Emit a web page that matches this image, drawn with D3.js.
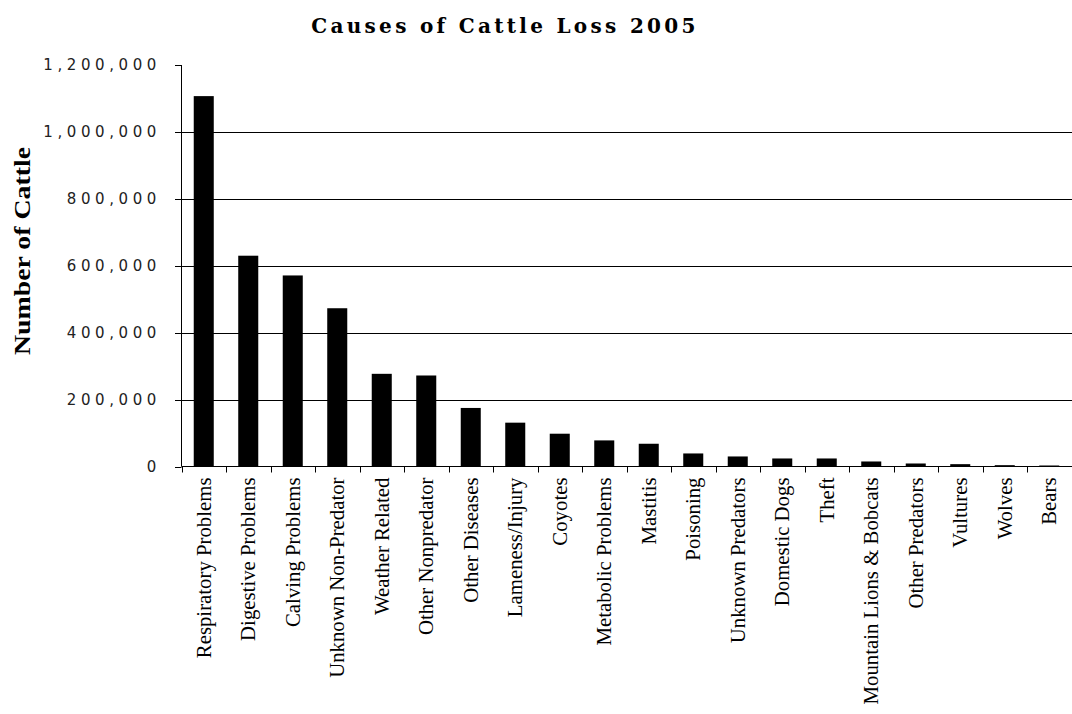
<!DOCTYPE html>
<html><head><meta charset="utf-8">
<script src="https://cdn.jsdelivr.net/npm/d3@7"></script>
<style>body{margin:0;background:#fff}svg{display:block}</style>
</head><body><svg id="c" width="1072" height="714"></svg>
<script>
const categories = ["Respiratory Problems","Digestive Problems","Calving Problems","Unknown Non-Predator","Weather Related","Other Nonpredator","Other Diseases","Lameness/Injury","Coyotes","Metabolic Problems","Mastitis","Poisoning","Unknown Predators","Domestic Dogs","Theft","Mountain Lions & Bobcats","Other Predators","Vultures","Wolves","Bears"];
const values = [1107000,630000,571000,473000,277000,272000,175000,131000,98000,78000,68000,39000,30000,24000,24000,15000,9000,7000,4000,3000];
const yTicks = [0,200000,400000,600000,800000,1000000,1200000];
const title = "Causes of Cattle Loss 2005";
const yTitle = "Number of Cattle";

const svg = d3.select("#c");
const x = d3.scaleBand().domain(categories).range([181.5,1071.5]).paddingInner(0.55).paddingOuter(0.275);
const y = d3.scaleLinear().domain([0,1200000]).range([466.5,65]);
const fmt = d3.format(",");

// gridlines
svg.append("g").selectAll("line").data(yTicks.filter(t=>t>0&&t<1200000)).join("line")
  .attr("x1",181.5).attr("x2",1072).attr("y1",d=>Math.round(y(d))+0.5).attr("y2",d=>Math.round(y(d))+0.5)
  .attr("stroke","#000").attr("stroke-width",1);

// bars
svg.append("g").selectAll("rect").data(categories).join("rect")
  .attr("x",d=>x(d)).attr("width",x.bandwidth())
  .attr("y",(d,i)=>y(values[i])).attr("height",(d,i)=>y(0)-y(values[i]))
  .attr("fill","#000");

// y axis
const ya = svg.append("g");
ya.append("line").attr("x1",181.5).attr("x2",181.5).attr("y1",y(1200000)).attr("y2",y(0)).attr("stroke","#000");
ya.selectAll("line.t").data(yTicks).join("line").attr("class","t")
  .attr("x1",175).attr("x2",181.5).attr("y1",d=>Math.round(y(d))+0.5).attr("y2",d=>Math.round(y(d))+0.5).attr("stroke","#000");
ya.selectAll("text").data(yTicks).join("text")
  .attr("x",161).attr("y",d=>y(d)).attr("dy","0.35em").attr("text-anchor","end")
  .style("font-family","DejaVu Sans").style("font-size","15px").style("letter-spacing","4.6px").attr("fill","#222")
  .text(d=>fmt(d));

// x axis
const xa = svg.append("g");
xa.append("line").attr("x1",181.5).attr("x2",1072).attr("y1",y(0)).attr("y2",y(0)).attr("stroke","#000");
const bounds = categories.map(c=>x(c)-x.step()*x.paddingInner()/2);
xa.selectAll("line.t").data(bounds).join("line").attr("class","t")
  .attr("x1",d=>Math.round(d)+0.5).attr("x2",d=>Math.round(d)+0.5).attr("y1",y(0)).attr("y2",y(0)+6).attr("stroke","#000");
xa.selectAll("text").data(categories).join("text")
  .attr("transform",d=>`translate(${x(d)+x.bandwidth()/2},${y(0)+11}) rotate(-90) scale(1.04,1)`)
  .attr("text-anchor","end").attr("dy","0.35em")
  .style("font-family","Liberation Serif").style("font-size","20px").attr("fill","#000")
  .text(d=>d);

// titles
svg.append("text").attr("x",505).attr("y",33).attr("text-anchor","middle")
  .style("font-family","DejaVu Serif").style("font-weight","bold").style("font-size","20px").style("letter-spacing","3.3px")
  .text(title);
svg.append("text").attr("transform","translate(22,251) rotate(-90)").attr("text-anchor","middle").attr("dy","0.35em")
  .style("font-family","Liberation Serif").style("font-weight","bold").style("font-size","24px")
  .attr("textLength",208).attr("lengthAdjust","spacingAndGlyphs")
  .text(yTitle);
</script></body></html>
